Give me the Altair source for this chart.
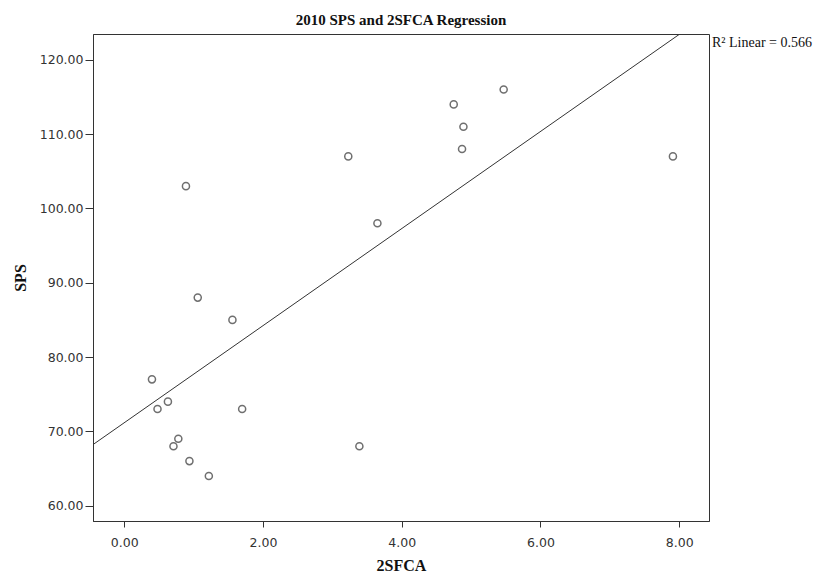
import altair as alt
import pandas as pd

# Data
sfca = [0.40, 0.63, 0.48, 1.70, 0.78, 0.71, 0.94, 1.22, 3.23, 3.65, 3.39,
        5.47, 4.75, 4.89, 4.87, 7.91, 0.89, 1.06, 1.56]
sps = [77, 74, 73, 73, 69, 68, 66, 64, 107, 98, 68,
       116, 114, 111, 108, 107, 103, 88, 85]
x_ticks = [0, 2, 4, 6, 8]
y_ticks = [60, 70, 80, 90, 100, 110, 120]
r2_label = ["R² Linear = 0.566"]
chart_title = "2010 SPS and 2SFCA Regression"
x_title = "2SFCA"
y_title = "SPS"

X_DOMAIN = [-0.45, 8.43]
Y_DOMAIN = [57.94, 123.47]

df = pd.DataFrame({"x": sfca, "y": sps})

xs = alt.Scale(domain=X_DOMAIN, nice=False, zero=False)
ys = alt.Scale(domain=Y_DOMAIN, nice=False, zero=False)

axis_common = dict(
    grid=False,
    domainColor="#333333",
    tickColor="#333333",
    labelFont="DejaVu Sans",
    labelFontSize=12.5,
    labelColor="#333333",
    titleFont="Liberation Serif",
    titleFontSize=16,
    titleFontWeight="bold",
    titleColor="#111111",
    format=".2f",
)

base = alt.Chart(df)

points = base.mark_point(
    shape="circle", filled=False, size=50, strokeWidth=1.5, color="#333333"
).encode(
    x=alt.X("x:Q", scale=xs,
            axis=alt.Axis(values=x_ticks, title=x_title, tickSize=6,
                          labelPadding=9, titlePadding=9, **axis_common)),
    y=alt.Y("y:Q", scale=ys,
            axis=alt.Axis(values=y_ticks, title=y_title, tickSize=8,
                          labelPadding=2, titlePadding=11, **axis_common)),
)

line = base.transform_regression(
    "x", "y", extent=X_DOMAIN
).mark_line(color="#333333", strokeWidth=1, clip=True).encode(
    x=alt.X("x:Q", scale=xs),
    y=alt.Y("y:Q", scale=ys),
)

label = alt.Chart(pd.DataFrame({"t": r2_label})).mark_text(
    align="left", baseline="middle", font="Liberation Serif",
    fontSize=14, color="#111111"
).encode(
    x=alt.value(619), y=alt.value(9), text="t:N"
)

chart = alt.layer(line, points, label).properties(
    width=616,
    height=487,
    autosize=alt.AutoSizeParams(type="none"),
    padding={"left": 85, "top": 26, "right": 107, "bottom": 54},
    background="white",
    title=alt.TitleParams(
        text=chart_title, font="Liberation Serif", fontSize=15,
        fontWeight="bold", anchor="middle", offset=6, color="#111111"
    ),
).configure_view(
    stroke="#333333", strokeWidth=1
)

chart.save("out.html", embed_options={"renderer": "svg", "actions": False})
